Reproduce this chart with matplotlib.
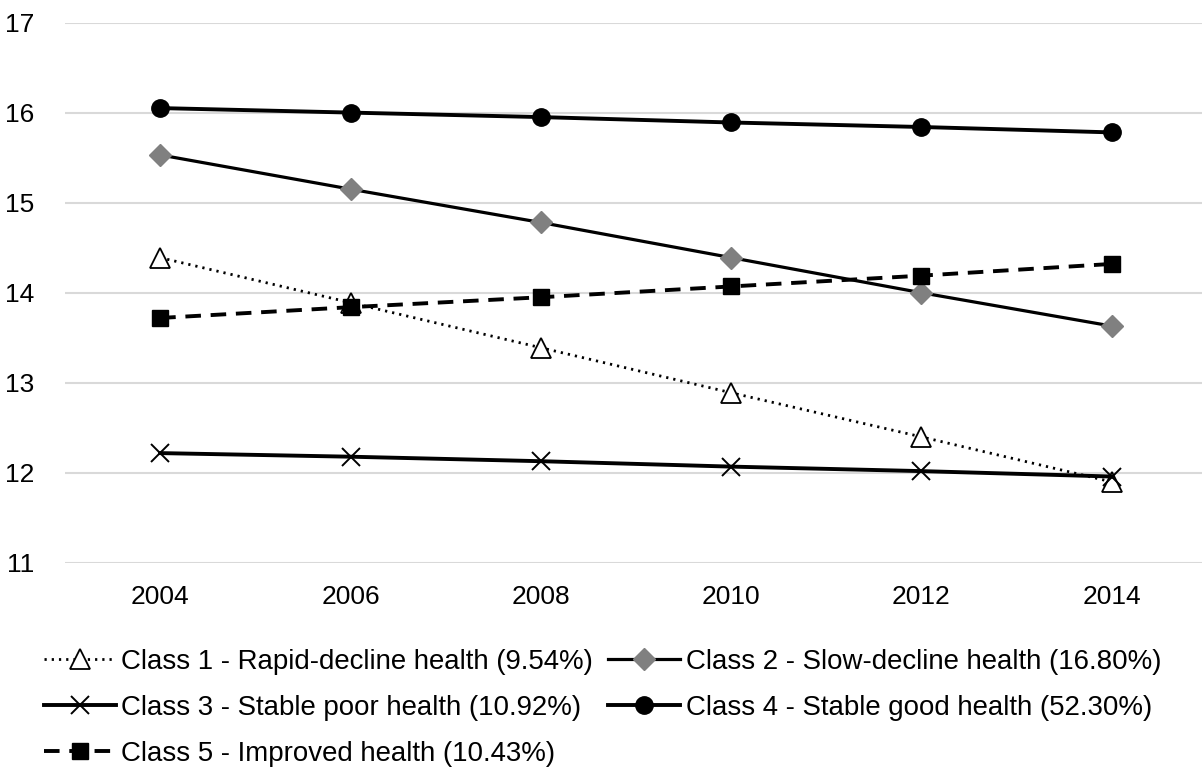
import matplotlib.pyplot as plt

# Waves of the survey and the mean score of each latent class
years = ["2004", "2006", "2008", "2010", "2012", "2014"]
class1 = [14.39, 13.89, 13.39, 12.89, 12.40, 11.90]
class2 = [15.53, 15.15, 14.78, 14.39, 14.00, 13.63]
class3 = [12.22, 12.18, 12.13, 12.07, 12.02, 11.96]
class4 = [16.05, 16.00, 15.95, 15.89, 15.84, 15.78]
class5 = [13.72, 13.84, 13.95, 14.07, 14.19, 14.32]

labels = [
    "Class 1 - Rapid-decline health (9.54%)",
    "Class 2 - Slow-decline health (16.80%)",
    "Class 3 - Stable poor health (10.92%)",
    "Class 4 - Stable good health (52.30%)",
    "Class 5 - Improved health (10.43%)",
]

plt.rcParams["font.family"] = ["Liberation Sans", "DejaVu Sans"]
plt.rcParams["font.size"] = 19.9

fig = plt.figure(figsize=(12.02, 7.73), dpi=100)
ax = fig.add_axes([65 / 1202, 1 - 563 / 773, 1142 / 1202, (563 - 22.5) / 773])

x = range(len(years))

l1, = ax.plot(x, class1, color="black", lw=2.0, linestyle=(0, (0.8, 1.8)),
              marker="^", markersize=14, markerfacecolor="white",
              markeredgecolor="black", markeredgewidth=1.3)
l2, = ax.plot(x, class2, color="black", lw=2.3, marker="D", markersize=11,
              markerfacecolor="#808080", markeredgecolor="#808080")
l3, = ax.plot(x, class3, color="black", lw=2.8, marker="x", markersize=13,
              markeredgewidth=1.4, markeredgecolor="black")
l4, = ax.plot(x, class4, color="black", lw=2.8, marker="o", markersize=12.5,
              markerfacecolor="black", markeredgecolor="black")
l5, = ax.plot(x, class5, color="black", lw=2.8, linestyle=(0, (4, 2.5)),
              marker="s", markersize=12, markerfacecolor="black",
              markeredgecolor="black")

ax.set_xlim(-0.5, len(years) - 0.5)
ax.set_ylim(11, 17)
ax.set_xticks(list(x))
ax.set_xticklabels(years)
ax.set_yticks(range(11, 18))
ax.grid(axis="y", color="#d9d9d9", lw=1.5)
ax.set_axisbelow(True)
for s in ax.spines.values():
    s.set_visible(False)
ax.tick_params(axis="both", length=0, labelsize=19)
ax.tick_params(axis="y", pad=22)
ax.tick_params(axis="x", pad=16)

# legend laid out in two columns, filled column by column
fig.legend([l1, l3, l5, l2, l4],
           [labels[0], labels[2], labels[4], labels[1], labels[3]],
           ncol=2, frameon=False, loc="upper left",
           bbox_to_anchor=(44 / 1202, 1 - 649 / 773),
           handlelength=2.6, handletextpad=0.2, columnspacing=0.55,
           labelspacing=0.72, borderaxespad=0, borderpad=0)

fig.savefig("out.png", dpi=100)
